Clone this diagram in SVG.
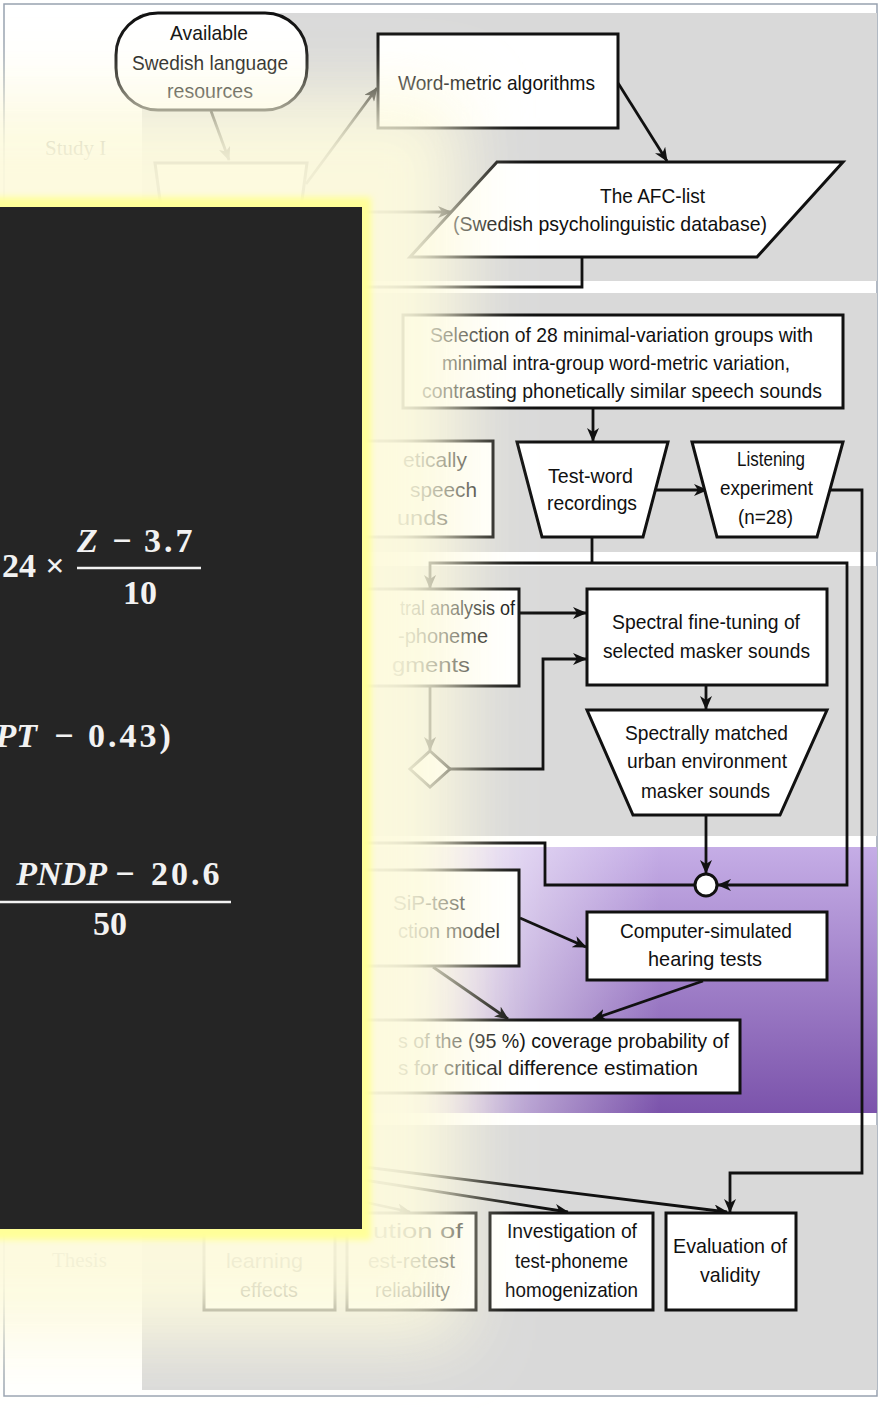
<svg xmlns="http://www.w3.org/2000/svg" width="879" height="1408" viewBox="0 0 879 1408">
  <defs>
    <style>
      .band { fill: #d9d9d9; }
      .node { fill: #ffffff; stroke: #111111; stroke-width: 3; stroke-linejoin: miter; }
      .t { font-family: "Liberation Sans Narrow", "Liberation Sans", Arial, sans-serif; font-size: 21px; fill: #101010; }
      .lbl { font-family: "Liberation Serif", "DejaVu Serif", serif; font-size: 21px; fill: #555555; }
      .wire { fill: none; stroke: #111111; stroke-width: 2.8; }
      .arr { marker-end: url(#ah); }
      .m { font-family: "Liberation Serif", "DejaVu Serif", serif; font-weight: bold; font-size: 34px; fill: #f2f2f2; }
      .mi { font-style: italic; }
      .bar { stroke: #f2f2f2; stroke-width: 2.5; }
    </style>
    <marker id="ah" viewBox="0 0 14 12" refX="13" refY="6" markerWidth="14" markerHeight="12" markerUnits="userSpaceOnUse" orient="auto">
      <path d="M0,0 L14,6 L0,12 L4,6 z" fill="#111111"/>
    </marker>
    <linearGradient id="purple" x1="0" y1="0" x2="0" y2="1">
      <stop offset="0" stop-color="#c5ade6"/>
      <stop offset="1" stop-color="#7b53ab"/>
    </linearGradient>
    <linearGradient id="purpleFade" gradientUnits="userSpaceOnUse" x1="400" y1="0" x2="660" y2="0">
      <stop offset="0" stop-color="#ffffff" stop-opacity="0.9"/>
      <stop offset="1" stop-color="#ffffff" stop-opacity="0"/>
    </linearGradient>
    <filter id="haze" filterUnits="userSpaceOnUse" x="-300" y="-200" width="1100" height="1800">
      <feGaussianBlur stdDeviation="35"/>
    </filter>
    <filter id="soft" filterUnits="userSpaceOnUse" x="-100" y="150" width="520" height="1150">
      <feGaussianBlur stdDeviation="3"/>
    </filter>
  </defs>

  <!-- page frame -->
  <rect x="4" y="4" width="873" height="1392" fill="#ffffff" stroke="#98a2b0" stroke-width="1.5"/>

  <!-- horizontal study bands -->
  <g id="bands">
    <rect class="band" x="142" y="13" width="735" height="268"/>
    <rect class="band" x="142" y="293" width="735" height="259"/>
    <rect class="band" x="142" y="566" width="735" height="270"/>
    <rect x="142" y="847" width="735" height="266" fill="url(#purple)"/>
    <rect x="142" y="847" width="735" height="266" fill="url(#purpleFade)"/>
    <rect class="band" x="142" y="1125" width="735" height="265"/>
  </g>

  <text class="lbl" x="45" y="155">Study I</text>
  <text class="lbl" x="52" y="1267">Thesis</text>

  <!-- connectors -->
  <g id="connectors">
    <path class="wire arr" d="M211,111 L229,160"/>
    <path class="wire arr" d="M306,184 L377,88"/>
    <path class="wire arr" d="M618,83 L667,161"/>
    <path class="wire arr" d="M330,212 L451,212"/>
    <path class="wire" d="M582,258 L582,287 L330,287"/>
    <path class="wire arr" d="M593,408 L593,441"/>
    <path class="wire arr" d="M655,490 L707,490"/>
    <path class="wire arr" d="M830,490 L862,490 L862,1173 L730,1173 L730,1212"/>
    <path class="wire" d="M592,537 L592,563"/>
    <path class="wire arr" d="M592,563 L430,563 L430,588"/>
    <path class="wire arr" d="M592,563 L847,563 L847,885 L718,885"/>
    <path class="wire arr" d="M519,613 L586,613"/>
    <path class="wire arr" d="M430,686 L430,750"/>
    <path class="wire arr" d="M450,769 L543,769 L543,659 L586,659"/>
    <path class="wire arr" d="M706,685 L706,709"/>
    <path class="wire arr" d="M706,815 L706,873"/>
    <path class="wire" d="M330,843 L545,843 L545,885 L695,885"/>
    <path class="wire arr" d="M520,918 L586,947"/>
    <path class="wire arr" d="M703,981 L593,1019"/>
    <path class="wire arr" d="M433,967 L508,1019"/>
    <path class="wire arr" d="M300,1159 L727,1212"/>
    <path class="wire arr" d="M300,1170 L568,1212"/>
    <path class="wire arr" d="M300,1188 L410,1212"/>
  </g>

  <!-- nodes -->
  <g id="n-resources">
    <rect class="node" x="116" y="13" width="191" height="97" rx="42" ry="42"/>
    <text class="t" x="170" y="40" textLength="78" lengthAdjust="spacingAndGlyphs">Available</text>
    <text class="t" x="132" y="70" textLength="156" lengthAdjust="spacingAndGlyphs">Swedish language</text>
    <text class="t" x="167" y="98" textLength="86" lengthAdjust="spacingAndGlyphs">resources</text>
  </g>
  <g id="n-study1">
    <polygon class="node" points="155,163 307,163 300,215 162,215"/>
  </g>
  <g id="n-wordmetric">
    <rect class="node" x="378" y="34" width="240" height="94"/>
    <text class="t" x="398" y="90" textLength="197" lengthAdjust="spacingAndGlyphs">Word-metric algorithms</text>
  </g>
  <g id="n-afc">
    <polygon class="node" points="497,162 843,162 757,257 410,257"/>
    <text class="t" x="600" y="203" textLength="105" lengthAdjust="spacingAndGlyphs">The AFC-list</text>
    <text class="t" x="453" y="231" textLength="314" lengthAdjust="spacingAndGlyphs">(Swedish psycholinguistic database)</text>
  </g>
  <g id="n-selection">
    <rect class="node" x="403" y="315" width="440" height="93"/>
    <text class="t" x="430" y="342" textLength="383" lengthAdjust="spacingAndGlyphs">Selection of 28 minimal-variation groups with</text>
    <text class="t" x="442" y="370" textLength="348" lengthAdjust="spacingAndGlyphs">minimal intra-group word-metric variation,</text>
    <text class="t" x="422" y="398" textLength="400" lengthAdjust="spacingAndGlyphs">contrasting phonetically similar speech sounds</text>
  </g>
  <g id="n-phonetic">
    <rect class="node" x="330" y="441" width="163" height="96"/>
    <text class="t" x="403" y="467" textLength="64" lengthAdjust="spacingAndGlyphs">etically</text>
    <text class="t" x="410" y="497" textLength="67" lengthAdjust="spacingAndGlyphs">speech</text>
    <text class="t" x="397" y="525" textLength="51" lengthAdjust="spacingAndGlyphs">unds</text>
  </g>
  <g id="n-testword">
    <polygon class="node" points="517,442 668,442 643,537 542,537"/>
    <text class="t" x="548" y="483" textLength="85" lengthAdjust="spacingAndGlyphs">Test-word</text>
    <text class="t" x="547" y="510" textLength="90" lengthAdjust="spacingAndGlyphs">recordings</text>
  </g>
  <g id="n-listening">
    <polygon class="node" points="692,442 843,442 817,537 717,537"/>
    <text class="t" x="737" y="466" textLength="68" lengthAdjust="spacingAndGlyphs">Listening</text>
    <text class="t" x="720" y="495" textLength="93" lengthAdjust="spacingAndGlyphs">experiment</text>
    <text class="t" x="738" y="524" textLength="55" lengthAdjust="spacingAndGlyphs">(n=28)</text>
  </g>
  <g id="n-analysis">
    <rect class="node" x="330" y="589" width="189" height="97"/>
    <text class="t" x="400" y="615" textLength="115" lengthAdjust="spacingAndGlyphs">tral analysis of</text>
    <text class="t" x="398" y="643" textLength="90" lengthAdjust="spacingAndGlyphs">-phoneme</text>
    <text class="t" x="392" y="672" textLength="78" lengthAdjust="spacingAndGlyphs">gments</text>
  </g>
  <g id="n-decision">
    <polygon class="node" points="430,751 450,769 430,787 410,769"/>
  </g>
  <g id="n-finetune">
    <rect class="node" x="587" y="589" width="240" height="96"/>
    <text class="t" x="612" y="629" textLength="188" lengthAdjust="spacingAndGlyphs">Spectral fine-tuning of</text>
    <text class="t" x="603" y="658" textLength="207" lengthAdjust="spacingAndGlyphs">selected masker sounds</text>
  </g>
  <g id="n-maskers">
    <polygon class="node" points="587,710 827,710 780,815 633,815"/>
    <text class="t" x="625" y="740" textLength="163" lengthAdjust="spacingAndGlyphs">Spectrally matched</text>
    <text class="t" x="627" y="768" textLength="160" lengthAdjust="spacingAndGlyphs">urban environment</text>
    <text class="t" x="641" y="798" textLength="129" lengthAdjust="spacingAndGlyphs">masker sounds</text>
  </g>
  <g id="n-join">
    <circle class="node" cx="706" cy="885" r="11"/>
  </g>
  <g id="n-sip">
    <rect class="node" x="330" y="870" width="189" height="96"/>
    <text class="t" x="393" y="910" textLength="72" lengthAdjust="spacingAndGlyphs">SiP-test</text>
    <text class="t" x="398" y="938" textLength="102" lengthAdjust="spacingAndGlyphs">ction model</text>
  </g>
  <g id="n-simulated">
    <rect class="node" x="587" y="912" width="240" height="68"/>
    <text class="t" x="620" y="938" textLength="172" lengthAdjust="spacingAndGlyphs">Computer-simulated</text>
    <text class="t" x="648" y="966" textLength="114" lengthAdjust="spacingAndGlyphs">hearing tests</text>
  </g>
  <g id="n-coverage">
    <rect class="node" x="330" y="1020" width="410" height="73"/>
    <text class="t" x="398" y="1048" textLength="331" lengthAdjust="spacingAndGlyphs">s of the (95 %) coverage probability of</text>
    <text class="t" x="398" y="1075" textLength="300" lengthAdjust="spacingAndGlyphs">s for critical difference estimation</text>
  </g>
  <g id="n-learning">
    <rect class="node" x="204" y="1213" width="131" height="97"/>
    <text class="t" x="226" y="1268" textLength="77" lengthAdjust="spacingAndGlyphs">learning</text>
    <text class="t" x="240" y="1297" textLength="58" lengthAdjust="spacingAndGlyphs">effects</text>
  </g>
  <g id="n-retest">
    <rect class="node" x="347" y="1213" width="129" height="97"/>
    <text class="t" x="373" y="1238" textLength="90" lengthAdjust="spacingAndGlyphs">ution of</text>
    <text class="t" x="368" y="1268" textLength="87" lengthAdjust="spacingAndGlyphs">est-retest</text>
    <text class="t" x="375" y="1297" textLength="75" lengthAdjust="spacingAndGlyphs">reliability</text>
  </g>
  <g id="n-homogenization">
    <rect class="node" x="490" y="1213" width="163" height="97"/>
    <text class="t" x="507" y="1238" textLength="130" lengthAdjust="spacingAndGlyphs">Investigation of</text>
    <text class="t" x="515" y="1268" textLength="113" lengthAdjust="spacingAndGlyphs">test-phoneme</text>
    <text class="t" x="505" y="1297" textLength="133" lengthAdjust="spacingAndGlyphs">homogenization</text>
  </g>
  <g id="n-validity">
    <rect class="node" x="666" y="1213" width="130" height="97"/>
    <text class="t" x="673" y="1253" textLength="114" lengthAdjust="spacingAndGlyphs">Evaluation of</text>
    <text class="t" x="700" y="1282" textLength="60" lengthAdjust="spacingAndGlyphs">validity</text>
  </g>

  <!-- cream haze around the formula panel -->
  <rect x="-150" y="95" width="612" height="1245" fill="#fdfade" opacity="0.95" filter="url(#haze)"/>

  <!-- formula panel with yellow rim -->
  <g id="formula-panel">
    <rect x="-30" y="197" width="401" height="1043" fill="#ffff99" filter="url(#soft)"/>
    <rect x="-10" y="207" width="372" height="1022" fill="#252525"/>

    <!-- 24 × (Z − 3.7) / 10 -->
    <text class="m" x="36" y="577" text-anchor="end">24</text>
    <text class="m" x="55" y="577" text-anchor="middle" font-weight="normal">×</text>
    <text class="m mi" x="77" y="552" fill="#8db05a">Z</text>
    <text class="m" x="122" y="552" text-anchor="middle" font-weight="normal">−</text>
    <text class="m" x="144" y="552" letter-spacing="3">3.7</text>
    <line class="bar" x1="77" y1="568" x2="201" y2="568"/>
    <text class="m" x="140" y="604" text-anchor="middle">10</text>

    <!-- (… PT − 0.43) -->
    <text class="m mi" x="37" y="747" text-anchor="end" fill="#e5a15e">PT</text>
    <text class="m" x="64" y="747" text-anchor="middle" font-weight="normal">−</text>
    <text class="m" x="88" y="747" letter-spacing="3">0.43)</text>

    <!-- (PNDP − 20.6) / 50 -->
    <text class="m mi" x="107" y="885" text-anchor="end" fill="#a49ccc">PNDP</text>
    <text class="m" x="125" y="885" text-anchor="middle" font-weight="normal">−</text>
    <text class="m" x="151" y="885" letter-spacing="3">20.6</text>
    <line class="bar" x1="-5" y1="902" x2="231" y2="902"/>
    <text class="m" x="110" y="935" text-anchor="middle">50</text>
  </g>
</svg>
